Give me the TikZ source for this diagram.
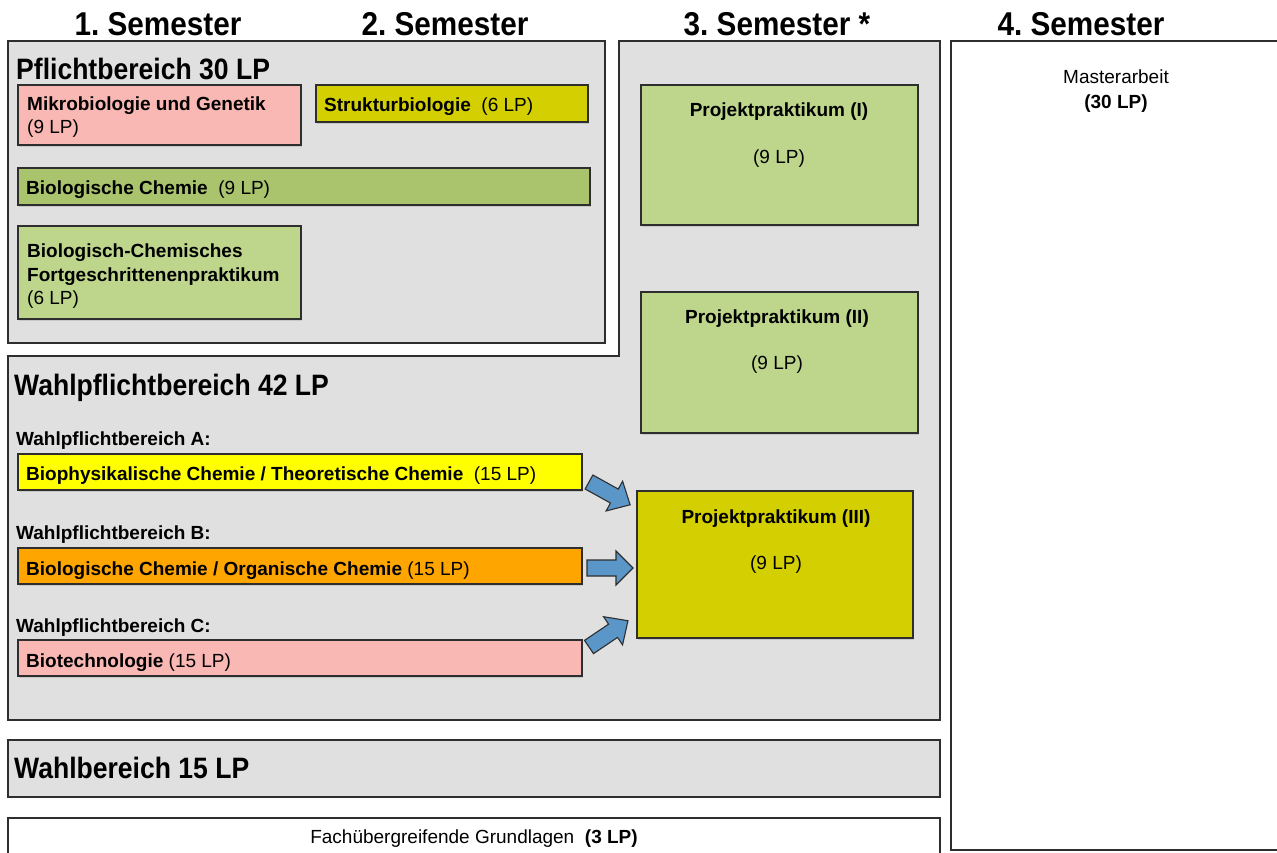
\documentclass[tikz,border=0pt]{standalone}
\usepackage{fontspec}
\setmainfont{Liberation Sans}
\newfontfamily\condfont[FakeStretch=0.9]{Liberation Sans}
\frenchspacing
\usetikzlibrary{fit,shadows}
\definecolor{areagray}{HTML}{E0E0E0}
\definecolor{bordc}{HTML}{2E2E2E}
\definecolor{pinkc}{HTML}{F9B8B3}
\definecolor{olivec}{HTML}{D3CF00}
\definecolor{greenc}{HTML}{A9C46C}
\definecolor{dotgreen}{HTML}{BDD68C}
\definecolor{yellowc}{HTML}{FFFF00}
\definecolor{orangec}{HTML}{FFA500}
\definecolor{arrowc}{HTML}{5B96C8}
\newcommand{\hfs}{\condfont\fontsize{33}{36}\selectfont\bfseries}
\newcommand{\tfs}{\condfont\fontsize{29.5}{32}\selectfont\bfseries}
\newcommand{\mfs}{\fontsize{19}{23}\selectfont}
\newcommand{\myarrow}[4]{%
  \begin{scope}[shift={(#1,#2)}, rotate=#3]
    \draw[blockarrow] (0,-8) -- (29,-8) -- (29,-17) -- (#4,0) -- (29,17) -- (29,8) -- (0,8) -- cycle;
  \end{scope}}
\begin{document}
\begin{tikzpicture}[x=1pt,y=-1pt,
  area/.style={draw=bordc, line width=1.6pt, fill=areagray},
  whitearea/.style={draw=bordc, line width=1.6pt, fill=white},
  mod/.style={draw=bordc, line width=1.4pt, inner sep=0pt,
    drop shadow={shadow xshift=1pt, shadow yshift=-1.5pt, opacity=0.25}},
  txt/.style={inner sep=0pt, font=\mfs},
  head/.style={inner sep=0pt, font=\hfs, anchor=base},
  title/.style={inner sep=0pt, font=\tfs, anchor=base west},
  blockarrow/.style={draw=bordc, line width=1.1pt, fill=arrowc, line join=miter}]
\useasboundingbox (0,0) rectangle (1277,852);
\clip (0,0) rectangle (1277,852);
\fill[white] (0,0) rectangle (1277,852);

% headers
\node[head] (h1) at (158,35) {1. Semester};
\node[head] (h2) at (445,35) {2. Semester};
\node[head] (h3) at (777,35) {3. Semester *};
\node[head] (h4) at (1081,35) {4. Semester};

% areas
\node[area, inner sep=0pt, fit={(8,41) (605,343)}] (pflicht) {};
\draw[area] (619,41) -- (940,41) -- (940,720) -- (8,720) -- (8,356) -- (619,356) -- cycle;
\node[area, inner sep=0pt, fit={(8,740) (940,797)}] (wahl) {};
\node[whitearea, inner sep=0pt, fit={(8,818) (940,872)}] (fach) {};
\node[whitearea, inner sep=0pt, fit={(951,41) (1300,850)}] (master) {};

% titles
\node[title] (tpflicht) at (16,79) {Pflichtbereich 30 LP};
\node[title] (twpf) at (14,395) {Wahlpflichtbereich 42 LP};
\node[title] (twahl) at (14,778) {Wahlbereich 15 LP};

% Pflichtbereich modules
\node[mod, fill=pinkc, fit={(18,85) (301,145)}] (mikro) {};
\node[txt, anchor=base west] (mikro1) at (27,110) {\textbf{Mikrobiologie und Genetik}};
\node[txt, anchor=base west] (mikro2) at (27,133) {(9 LP)};

\node[mod, fill=olivec, fit={(316,85) (588,122)}] (struk) {};
\node[txt, anchor=base west] (struk1) at (324,111) {\textbf{Strukturbiologie}~ (6 LP)};

\node[mod, fill=greenc, fit={(18,168) (590,205)}] (biochem) {};
\node[txt, anchor=base west] (biochem1) at (26,194) {\textbf{Biologische Chemie}~ (9 LP)};

\node[mod, fill=dotgreen, fit={(18,226) (301,319)}] (fp) {};
\node[txt, anchor=base west] (fp1) at (27,257) {\textbf{Biologisch-Chemisches}};
\node[txt, anchor=base west] (fp2) at (27,281) {\textbf{Fortgeschrittenenpraktikum}};
\node[txt, anchor=base west] (fp3) at (27,304) {(6 LP)};

% Projektpraktika
\node[mod, fill=dotgreen, fit={(641,85) (918,225)}] (pp1) {};
\node[txt, anchor=base] (pp1a) at (779,116) {\textbf{Projektpraktikum (I)}};
\node[txt, anchor=base] (pp1b) at (779,163) {(9 LP)};

\node[mod, fill=dotgreen, fit={(641,292) (918,433)}] (pp2) {};
\node[txt, anchor=base] (pp2a) at (777,323) {\textbf{Projektpraktikum (II)}};
\node[txt, anchor=base] (pp2b) at (777,369) {(9 LP)};

\node[mod, fill=olivec, fit={(637,491) (913,638)}] (pp3) {};
\node[txt, anchor=base] (pp3a) at (776,523) {\textbf{Projektpraktikum (III)}};
\node[txt, anchor=base] (pp3b) at (776,569) {(9 LP)};

% Wahlpflicht modules
\node[txt, anchor=base west] (la) at (16,445) {\textbf{Wahlpflichtbereich A:}};
\node[mod, fill=yellowc, fit={(18,454) (582,490)}] (wa) {};
\node[txt, anchor=base west] (wa1) at (26,480) {\textbf{Biophysikalische Chemie / Theoretische Chemie}~ (15 LP)};

\node[txt, anchor=base west] (lb) at (16,539) {\textbf{Wahlpflichtbereich B:}};
\node[mod, fill=orangec, fit={(18,548) (582,584)}] (wb) {};
\node[txt, anchor=base west] (wb1) at (26,575) {\textbf{Biologische Chemie / Organische Chemie} (15 LP)};

\node[txt, anchor=base west] (lc) at (16,632) {\textbf{Wahlpflichtbereich C:}};
\node[mod, fill=pinkc, fit={(18,640) (582,676)}] (wc) {};
\node[txt, anchor=base west] (wc1) at (26,667) {\textbf{Biotechnologie} (15 LP)};

% arrows
\myarrow{589}{482}{-29}{47}
\myarrow{587}{568}{0}{46}
\myarrow{589}{647}{34}{47}

% bottom / master texts
\node[txt, anchor=base] (fach1) at (474,843) {Fachübergreifende Grundlagen~ \textbf{(3 LP)}};
\node[txt, anchor=base] (ma1) at (1116,83) {Masterarbeit};
\node[txt, anchor=base] (ma2) at (1116,108) {\textbf{(30 LP)}};
\end{tikzpicture}
\end{document}
